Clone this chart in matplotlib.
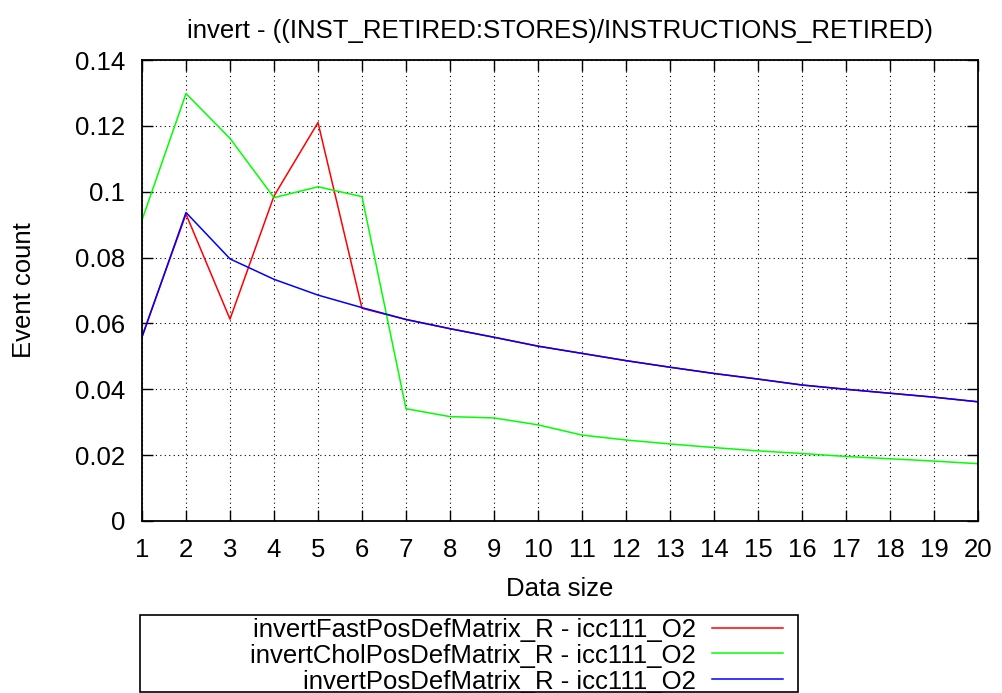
import matplotlib
matplotlib.use("Agg")
import matplotlib.pyplot as plt
from matplotlib.patches import Rectangle
from matplotlib.lines import Line2D

plt.rcParams['font.family'] = ['Liberation Sans', 'DejaVu Sans']

# data
sizes = list(range(1, 21))
fast_pos_def = [0.0561, 0.0932, 0.0613, 0.0987, 0.1210, 0.0646, 0.0612, 0.0584,
                0.0558, 0.0531, 0.0509, 0.0487, 0.0467, 0.0448, 0.0431, 0.0413,
                0.0400, 0.0388, 0.0376, 0.0362]
chol_pos_def = [0.0914, 0.1298, 0.1162, 0.0982, 0.1015, 0.0985, 0.0341, 0.0317,
                0.0313, 0.0292, 0.0261, 0.0246, 0.0234, 0.0223, 0.0213, 0.0205,
                0.0196, 0.0189, 0.0182, 0.0174]
pos_def = [0.0558, 0.0937, 0.0796, 0.0734, 0.0686, 0.0648, 0.0612, 0.0584,
           0.0558, 0.0531, 0.0509, 0.0487, 0.0467, 0.0448, 0.0431, 0.0413,
           0.0400, 0.0388, 0.0376, 0.0362]
labels = ['invertFastPosDefMatrix_R - icc111_O2',
          'invertCholPosDefMatrix_R - icc111_O2',
          'invertPosDefMatrix_R - icc111_O2']
colors = ['#ff0000', '#00ff00', '#0000ff']
yticks = [0, 0.02, 0.04, 0.06, 0.08, 0.1, 0.12, 0.14]
ytick_labels = ['0', '0.02', '0.04', '0.06', '0.08', '0.1', '0.12', '0.14']

W, H = 1003, 693
FS = 18.5

fig = plt.figure(figsize=(W / 100, H / 100), dpi=100)
ax = fig.add_axes([142 / W, 1 - 521 / H, (978 - 142) / W, (521 - 60) / H])

for ys, c, lab in zip([fast_pos_def, chol_pos_def, pos_def], colors, labels):
    ax.plot(sizes, ys, color=c, lw=1.1, label=lab)

ax.set_xlim(1, 20)
ax.set_ylim(0, 0.14)
ax.set_xticks(sizes)
ax.set_yticks(yticks)
ax.set_yticklabels(ytick_labels)
ax.tick_params(direction='in', length=8, width=1, top=True, right=True,
               labelsize=FS)
ax.tick_params(axis='x', pad=12)
ax.tick_params(axis='y', pad=12)
ax.grid(True, color='black', ls=(0, (1, 3)), lw=0.8)
for sp in ax.spines.values():
    sp.set_linewidth(1.3)

ax.set_title('invert - ((INST_RETIRED:STORES)/INSTRUCTIONS_RETIRED)',
             fontsize=FS, pad=16)
ax.set_xlabel('Data size', fontsize=FS, labelpad=11)
ax.set_ylabel('Event count', fontsize=FS, labelpad=28)

# gnuplot-style key: framed box, right-aligned text, sample line on the right
fig.patches.append(Rectangle((140 / W, 1 - 692 / H), (798 - 140) / W, (692 - 615) / H,
                             transform=fig.transFigure, fill=False,
                             edgecolor='black', lw=1.2))
row_y = [628, 653, 679]
for lab, c, yy in zip(labels, colors, row_y):
    fig.text(696 / W, 1 - yy / H, lab, ha='right', va='center_baseline', fontsize=FS)
    fig.lines.append(Line2D([712 / W, 783 / W], [1 - yy / H, 1 - yy / H],
                            transform=fig.transFigure, color=c, lw=1.1))

fig.savefig('out.png', dpi=100)
